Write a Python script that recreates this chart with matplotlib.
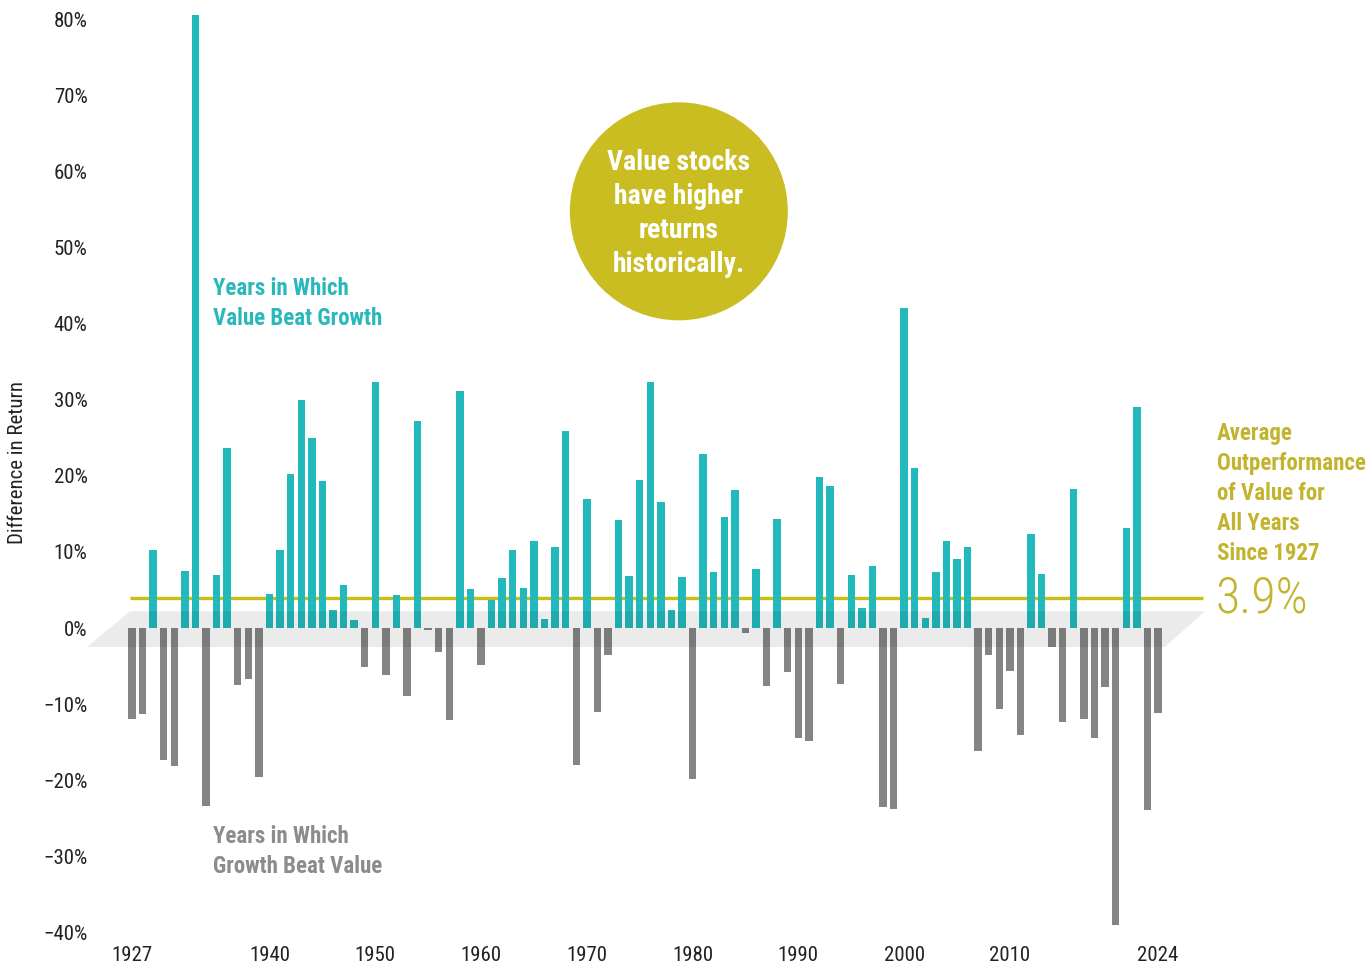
import matplotlib
matplotlib.use("Agg")
import matplotlib.pyplot as plt
import numpy as np
from matplotlib import font_manager
from matplotlib.patches import Ellipse

# Value minus growth return by year (%)
years = list(range(1927, 2025))
diff_return = [
    -12.0, -11.3, 10.2, -17.4, -18.1, 7.5, 80.6, -23.4, 6.9, 23.6,    # 1927-1936
    -7.5, -6.7, -19.6, 4.5, 10.2, 20.2, 30.0, 25.0, 19.3, 2.4,        # 1937-1946
    5.7, 1.0, -5.1, 32.3, -6.2, 4.3, -9.0, 27.2, -0.2, -3.2,          # 1947-1956
    -12.1, 31.1, 5.1, -4.9, 3.7, 6.6, 10.3, 5.3, 11.4, 1.2,           # 1957-1966
    10.6, 25.9, -18.0, 16.9, -11.0, -3.6, 14.2, 6.8, 19.5, 32.3,      # 1967-1976
    16.5, 2.3, 6.7, -19.8, 22.8, 7.3, 14.6, 18.1, -0.6, 7.7,          # 1977-1986
    -7.6, 14.3, -5.8, -14.5, -14.8, 19.8, 18.7, -7.4, 6.9, 2.6,       # 1987-1996
    8.1, -23.5, -23.8, 42.1, 21.0, 1.3, 7.4, 11.4, 9.1, 10.7,         # 1997-2006
    -16.2, -3.6, -10.7, -5.7, -14.1, 12.3, 7.1, -2.5, -12.4, 18.3,    # 2007-2016
    -12.0, -14.4, -7.8, -39.0, 13.2, 29.0, -23.9, -11.2,              # 2017-2024
]
average_outperformance = 3.9
xtick_years = [1927, 1940, 1950, 1960, 1970, 1980, 1990, 2000, 2010, 2024]
ytick_values = list(range(-40, 81, 10))

TEAL = "#22b9bd"
GRAY = "#858585"
OLIVE = "#c9bd22"
OLIVE_TEXT = "#c2b42e"

# pick a narrow font if one is around
installed = {f.name for f in font_manager.fontManager.ttflist}
narrow = None
for name in ["Roboto Condensed", "Liberation Sans Narrow", "Open Sans Condensed", "Arial Narrow"]:
    if name in installed:
        narrow = name
        break
if narrow:
    FONT = dict(family=narrow)
elif any(f.name == "DejaVu Sans" and f.stretch == "condensed" for f in font_manager.fontManager.ttflist):
    FONT = dict(family="DejaVu Sans", stretch="condensed")
else:
    FONT = dict(family="Roboto")

fig = plt.figure(figsize=(13.72, 9.64), dpi=100)
ax = fig.add_axes([100 / 1372, 29 / 964, 1272 / 1372, 935 / 964])
ax.set_xlim(1923.975, 2044.236)
ax.set_ylim(-40.34, 82.52)

colors = [TEAL if v > 0 else GRAY for v in diff_return]
ax.bar(years, diff_return, width=0.7, color=colors, zorder=2)

# average line
ax.plot([years[0] - 0.2, years[-1] + 4.3], [average_outperformance] * 2,
        color="#c8be17", linewidth=2.4, zorder=1.5, solid_capstyle="butt")

# translucent floor
ax.fill([years[0] - 0.2, years[-1] + 4.45, years[-1] + 0.65, years[0] - 4.25],
        [2.2, 2.2, -2.5, -2.5], facecolor="black", alpha=0.08,
        edgecolor="none", zorder=3, clip_on=False)

# circle call-out
ax.add_patch(Ellipse((1978.7, 54.75), 218 / 10.577, 218 / 7.61,
                     facecolor=OLIVE, edgecolor="none", zorder=4))
ax.text(1978.7, 54.5, "Value stocks\nhave higher\nreturns\nhistorically.",
        ha="center", va="center", color="white", fontsize=20, fontweight="bold",
        linespacing=1.34, zorder=5, **FONT)

ax.text(1934.66, 42.6, "Years in Which\nValue Beat Growth", ha="left", va="center",
        color="#2bb8bc", fontsize=16.5, fontweight="bold", linespacing=1.37, **FONT)
ax.text(1934.66, -29.35, "Years in Which\nGrowth Beat Value", ha="left", va="center",
        color="#8c8c8c", fontsize=16.5, fontweight="bold", linespacing=1.37, **FONT)

ax.text(2029.6, 17.7, "Average\nOutperformance\nof Value for\nAll Years\nSince 1927",
        ha="left", va="center", color=OLIVE_TEXT, fontsize=16.5, fontweight="bold",
        linespacing=1.39, clip_on=False, **FONT)
ax.text(2029.4, average_outperformance, f"{average_outperformance}%", ha="left",
        va="center", color=OLIVE_TEXT, fontsize=36, fontweight="light", **FONT)

ax.set_xticks(xtick_years)
ax.set_xticklabels([str(y) for y in xtick_years], fontsize=15, color="#222222", **FONT)
ax.set_yticks(ytick_values)
ax.set_yticklabels([f"{v}%".replace("-", "\u2212") for v in ytick_values],
                   fontsize=15, color="#222222", **FONT)
ax.tick_params(axis="both", length=0)
ax.tick_params(axis="y", pad=9)
ax.tick_params(axis="x", pad=8)
for s in ax.spines.values():
    s.set_visible(False)

ax.set_ylabel("Difference in Return", fontsize=15, color="#222222", **FONT)
ax.yaxis.set_label_coords(-(100 - 27) / 1272, (935 - 462) / 935)

fig.savefig("out.png", dpi=100)
